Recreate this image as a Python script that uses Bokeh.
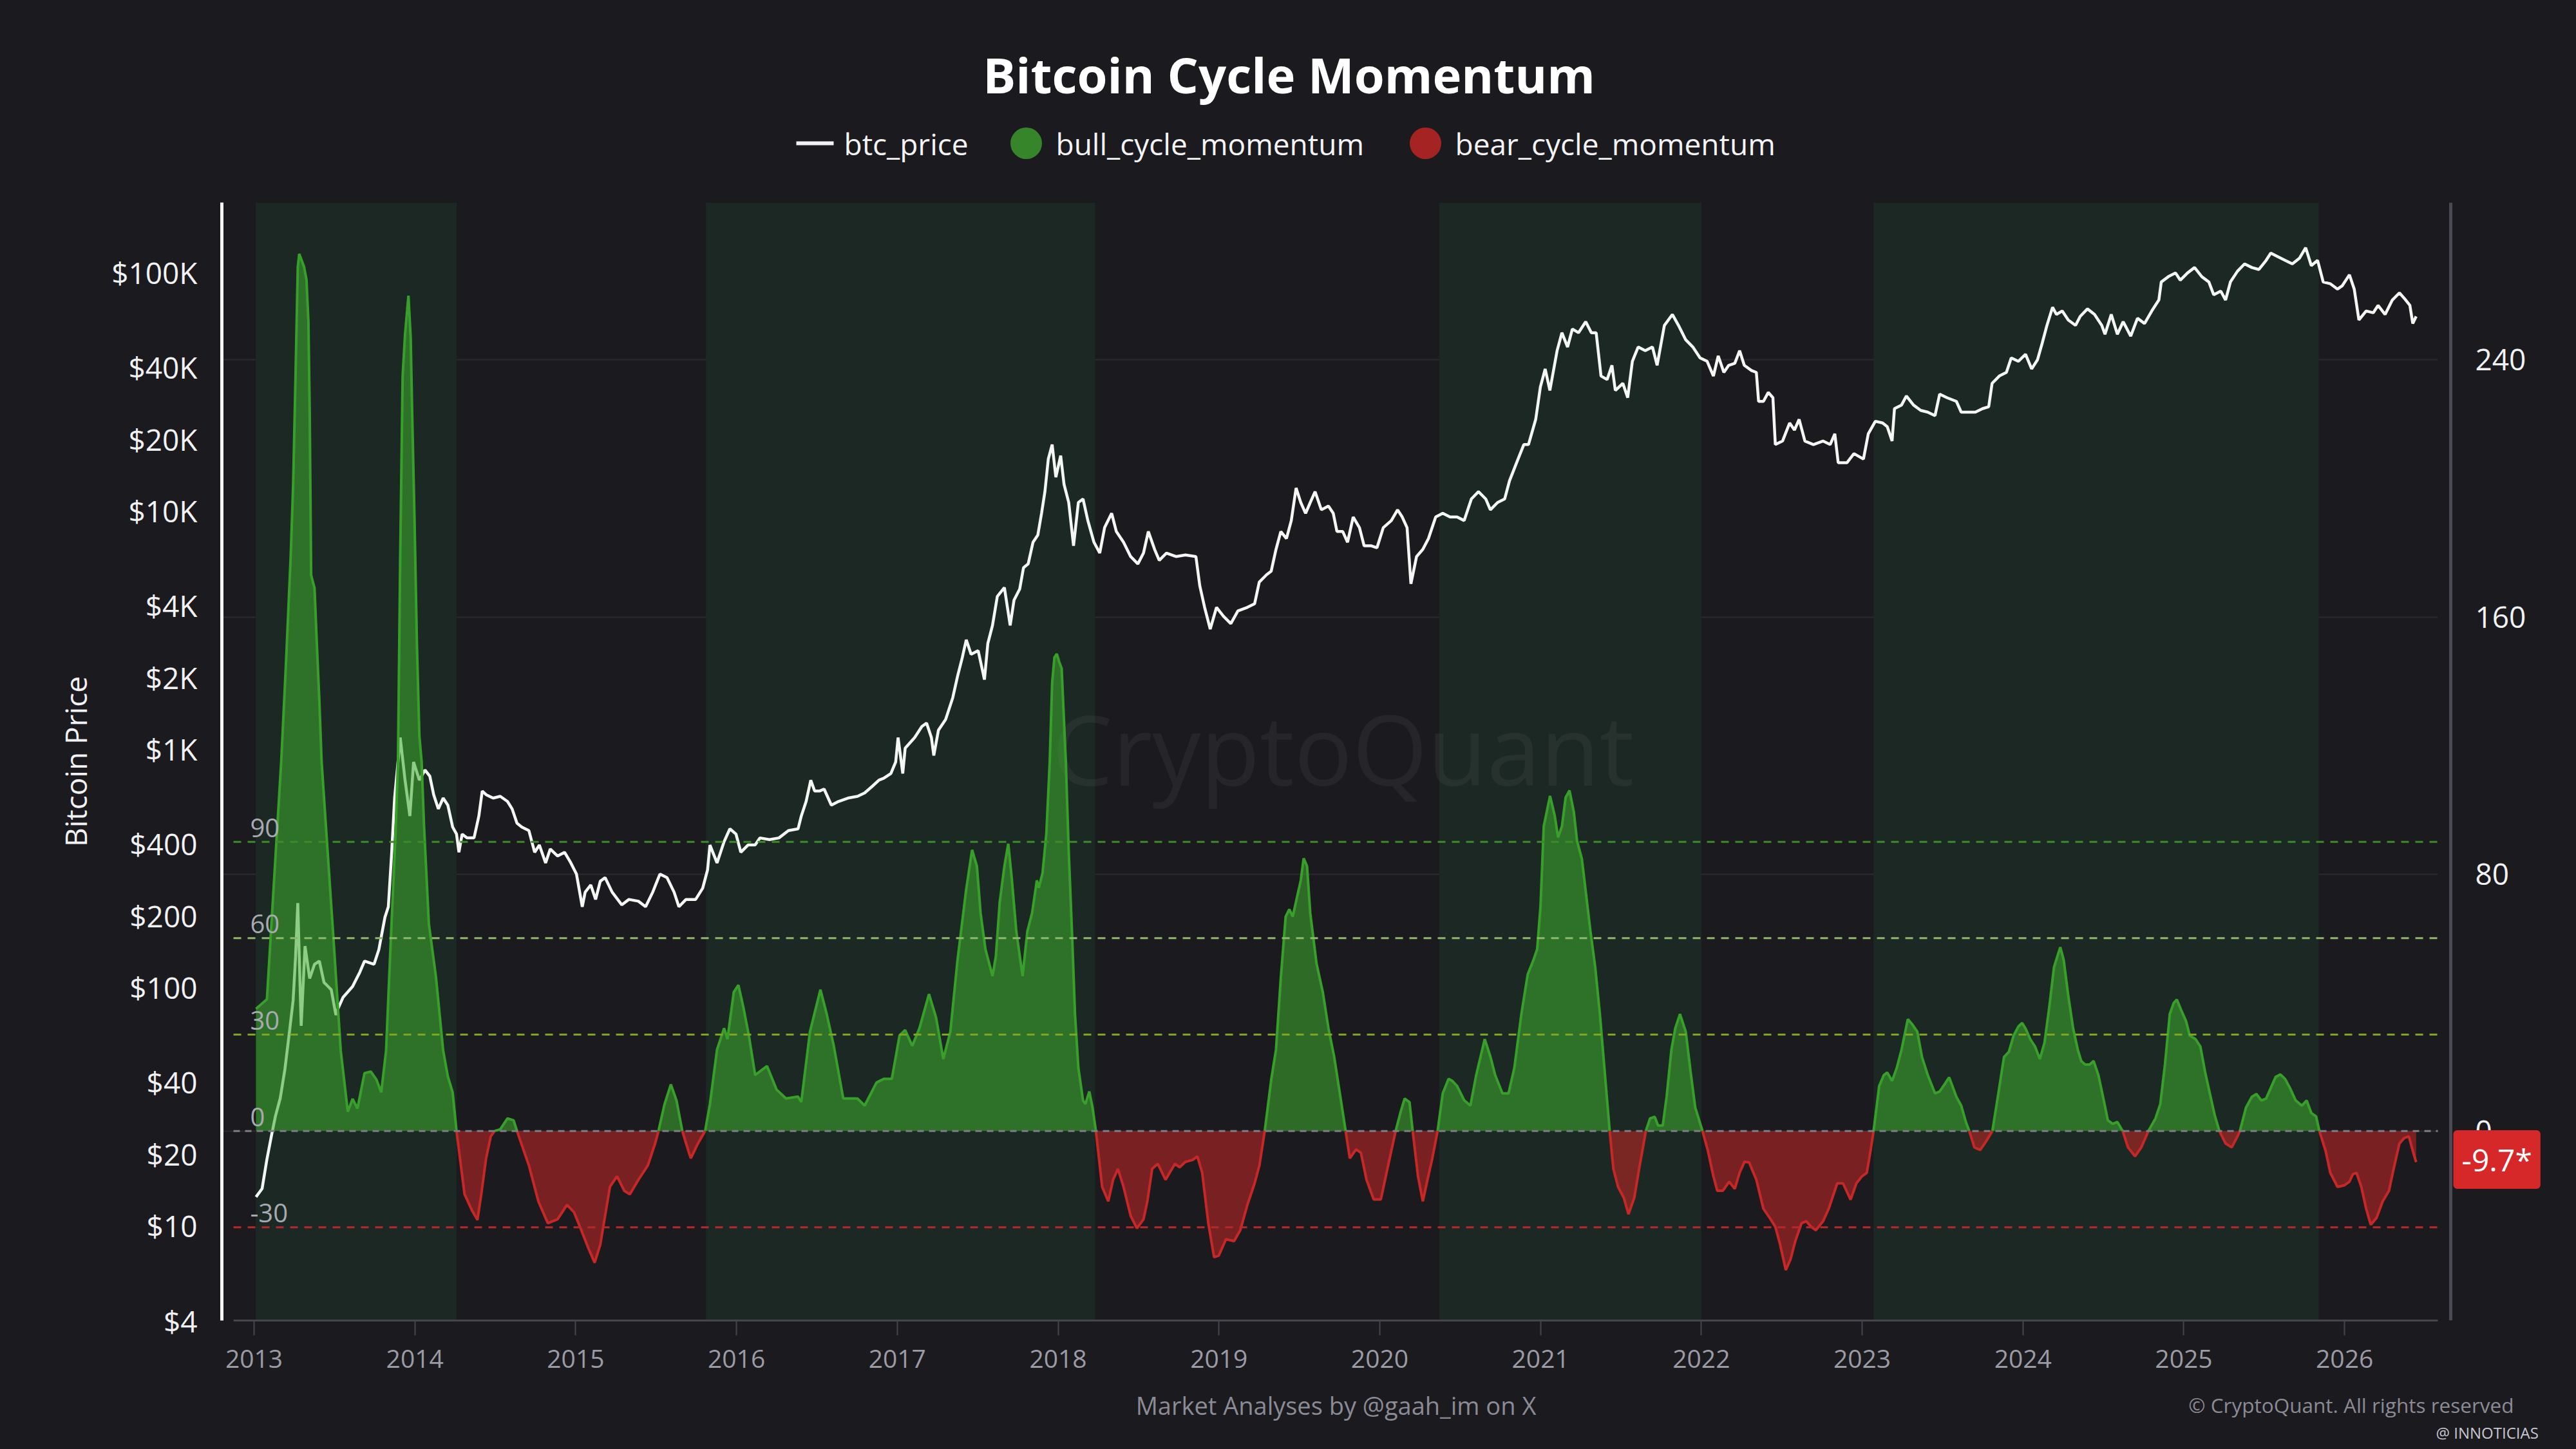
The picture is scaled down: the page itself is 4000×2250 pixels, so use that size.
import numpy as np
from bokeh.plotting import figure
from bokeh.models import Range1d, LinearAxis, LinearScale, FixedTicker, Label, BoxAnnotation, Grid
from bokeh.layouts import column
from bokeh.embed import file_html
from bokeh.resources import INLINE
from bokeh.core.properties import value

# ---------------- data ----------------
TITLE = "Bitcoin Cycle Momentum"
SERIES_NAMES = ["btc_price", "bull_cycle_momentum", "bear_cycle_momentum"]

PRICE_T = [2013.012, 2013.050, 2013.080, 2013.110, 2013.133, 2013.163, 2013.192, 2013.222, 2013.243, 2013.258,
           2013.272, 2013.293, 2013.317, 2013.346, 2013.376, 2013.406, 2013.435, 2013.480, 2013.509, 2013.524,
           2013.554, 2013.613, 2013.658, 2013.687, 2013.746, 2013.776, 2013.814, 2013.835, 2013.856, 2013.874,
           2013.895, 2013.909, 2013.939, 2013.969, 2013.992, 2014.028, 2014.063, 2014.093, 2014.117, 2014.146,
           2014.176, 2014.205, 2014.235, 2014.259, 2014.274, 2014.294, 2014.324, 2014.368, 2014.398, 2014.419,
           2014.443, 2014.487, 2014.531, 2014.576, 2014.605, 2014.635, 2014.665, 2014.709, 2014.745, 2014.774,
           2014.813, 2014.842, 2014.887, 2014.931, 2014.970, 2015.005, 2015.041, 2015.059, 2015.094, 2015.124,
           2015.153, 2015.183, 2015.227, 2015.287, 2015.331, 2015.390, 2015.435, 2015.479, 2015.524, 2015.568,
           2015.612, 2015.642, 2015.686, 2015.746, 2015.790, 2015.820, 2015.835, 2015.879, 2015.923, 2015.959,
           2015.997, 2016.027, 2016.072, 2016.116, 2016.146, 2016.205, 2016.264, 2016.323, 2016.383, 2016.403,
           2016.433, 2016.462, 2016.486, 2016.516, 2016.545, 2016.590, 2016.634, 2016.693, 2016.753, 2016.797,
           2016.842, 2016.886, 2016.916, 2016.960, 2016.990, 2017.005, 2017.034, 2017.049, 2017.108, 2017.153,
           2017.182, 2017.212, 2017.227, 2017.256, 2017.301, 2017.345, 2017.375, 2017.404, 2017.429, 2017.459,
           2017.503, 2017.542, 2017.563, 2017.592, 2017.622, 2017.666, 2017.702, 2017.726, 2017.761, 2017.785,
           2017.814, 2017.844, 2017.874, 2017.897, 2017.918, 2017.939, 2017.963, 2017.986, 2018.016, 2018.037,
           2018.066, 2018.096, 2018.126, 2018.155, 2018.185, 2018.223, 2018.259, 2018.289, 2018.333, 2018.362,
           2018.407, 2018.451, 2018.496, 2018.531, 2018.561, 2018.600, 2018.629, 2018.674, 2018.733, 2018.792,
           2018.857, 2018.881, 2018.911, 2018.946, 2018.985, 2019.029, 2019.074, 2019.118, 2019.177, 2019.222,
           2019.251, 2019.296, 2019.325, 2019.355, 2019.385, 2019.420, 2019.450, 2019.480, 2019.509, 2019.539,
           2019.568, 2019.598, 2019.637, 2019.681, 2019.711, 2019.734, 2019.770, 2019.800, 2019.835, 2019.874,
           2019.903, 2019.948, 2019.983, 2020.022, 2020.072, 2020.111, 2020.140, 2020.170, 2020.194, 2020.229,
           2020.268, 2020.303, 2020.348, 2020.392, 2020.437, 2020.481, 2020.525, 2020.570, 2020.614, 2020.659,
           2020.688, 2020.733, 2020.777, 2020.807, 2020.851, 2020.896, 2020.925, 2020.970, 2020.999, 2021.029,
           2021.058, 2021.103, 2021.133, 2021.168, 2021.198, 2021.236, 2021.281, 2021.316, 2021.346, 2021.376,
           2021.414, 2021.444, 2021.465, 2021.512, 2021.542, 2021.571, 2021.607, 2021.651, 2021.696, 2021.725,
           2021.770, 2021.820, 2021.858, 2021.903, 2021.947, 2021.992, 2022.036, 2022.075, 2022.105, 2022.140,
           2022.170, 2022.208, 2022.238, 2022.267, 2022.312, 2022.342, 2022.356, 2022.386, 2022.416, 2022.445,
           2022.460, 2022.505, 2022.549, 2022.579, 2022.608, 2022.644, 2022.697, 2022.756, 2022.801, 2022.830,
           2022.851, 2022.905, 2022.949, 2023.008, 2023.038, 2023.082, 2023.127, 2023.156, 2023.186, 2023.201,
           2023.245, 2023.275, 2023.319, 2023.364, 2023.408, 2023.453, 2023.482, 2023.527, 2023.586, 2023.616,
           2023.660, 2023.704, 2023.749, 2023.787, 2023.808, 2023.853, 2023.897, 2023.927, 2023.971, 2024.016,
           2024.054, 2024.090, 2024.119, 2024.149, 2024.184, 2024.208, 2024.244, 2024.282, 2024.327, 2024.356,
           2024.401, 2024.445, 2024.490, 2024.510, 2024.549, 2024.587, 2024.623, 2024.670, 2024.712, 2024.756,
           2024.801, 2024.845, 2024.860, 2024.904, 2024.949, 2024.978, 2025.023, 2025.067, 2025.112, 2025.156,
           2025.186, 2025.230, 2025.260, 2025.290, 2025.334, 2025.378, 2025.423, 2025.467, 2025.512, 2025.541,
           2025.586, 2025.630, 2025.675, 2025.719, 2025.758, 2025.793, 2025.832, 2025.867, 2025.912, 2025.956,
           2025.986, 2026.030, 2026.060, 2026.089, 2026.134, 2026.178, 2026.208, 2026.252, 2026.297, 2026.341,
           2026.371, 2026.406, 2026.424, 2026.445]
PRICE_V = [13.2, 14.3, 19, 24.2, 28.8, 34.3, 45.4, 66.7, 88.3, 134,
           226, 69, 149, 109, 125, 129, 105, 97.8, 76.6, 82,
           91, 101, 116, 129, 125, 144, 197, 218, 369, 623,
           883, 1119, 741, 524, 883, 741, 817, 770, 644, 561,
           623, 582, 471, 440, 369, 440, 424, 424, 524, 667,
           644, 623, 634, 603, 561, 489, 471, 455, 369, 396,
           333, 381, 356, 369, 333, 299, 218, 251, 269, 234,
           279, 289, 251, 222, 234, 230, 218, 251, 299, 289,
           251, 218, 234, 234, 261, 311, 396, 333, 409, 463,
           440, 369, 396, 396, 424, 417, 424, 455, 463, 524,
           603, 741, 667, 667, 680, 582, 603, 623, 634, 655,
           696, 741, 755, 790, 883, 1119, 790, 1009, 1119, 1245,
           1286, 1119, 940, 1202, 1334, 1644, 2027, 2420, 2877, 2500,
           2589, 1958, 2776, 3305, 4372, 4766, 3305, 4225, 4693, 5777,
           5989, 7380, 7918, 9761, 12040, 16490, 18970, 13840, 17060, 12910,
           10840, 7130, 10840, 11220, 9100, 7380, 6650, 8500, 9761, 8190,
           7380, 6430, 5989, 6650, 8190, 6890, 6200, 6650, 6430, 6530,
           6430, 4850, 3935, 3190, 3935, 3605, 3364, 3800, 3935, 4075,
           5024, 5390, 5580, 6890, 8190, 7650, 9100, 12470, 10840, 9761,
           10840, 12040, 10100, 10470, 9761, 8190, 8190, 7380, 9420, 8500,
           7130, 7130, 7000, 8500, 9100, 10100, 9420, 8500, 4940, 6430,
           6890, 7650, 9420, 9761, 9420, 9420, 9100, 11220, 12040, 11220,
           10100, 10840, 11220, 13370, 15910, 18970, 18970, 24200, 33100, 39400,
           32000, 47000, 55900, 48700, 57950, 55900, 62200, 55900, 55900, 36800,
           35550, 40800, 32000, 34280, 29850, 42400, 48700, 47000, 48700, 40800,
           60000, 66700, 60000, 52200, 48700, 43850, 42400, 36800, 44700, 38100,
           40800, 41600, 47000, 40800, 38800, 38100, 28800, 28800, 31400, 29850,
           18970, 19630, 23380, 21830, 24200, 19630, 18970, 19630, 18970, 21050,
           15910, 15910, 17380, 16490, 21050, 23770, 23380, 22560, 19630, 26850,
           27800, 30340, 27800, 26400, 25950, 25060, 30900, 29850, 28800, 25950,
           25950, 25950, 26850, 27350, 34280, 36800, 38100, 43850, 42400, 45400,
           39400, 43000, 50400, 60000, 71500, 66700, 69000, 63200, 60000, 65500,
           70400, 66700, 60000, 55100, 66700, 55100, 62200, 54100, 64300, 61100,
           69000, 76700, 91300, 96100, 99600, 92900, 99600, 105000, 96100, 91300,
           80700, 83600, 76700, 91300, 101300, 108700, 105000, 103000, 112500, 120700,
           116500, 112500, 108700, 114800, 127100, 106900, 112500, 91300, 89700, 85200,
           88100, 97900, 85200, 63200, 69000, 67800, 72800, 66700, 76700, 82200,
           78000, 72800, 61100, 65500]

MOM_T = [2013.012, 2013.080, 2013.169, 2013.198, 2013.228, 2013.243, 2013.258, 2013.272, 2013.281, 2013.311,
         2013.326, 2013.338, 2013.346, 2013.355, 2013.376, 2013.391, 2013.406, 2013.420, 2013.495, 2013.539,
         2013.583, 2013.613, 2013.643, 2013.687, 2013.726, 2013.761, 2013.791, 2013.821, 2013.850, 2013.880,
         2013.895, 2013.909, 2013.924, 2013.939, 2013.960, 2013.974, 2013.983, 2013.998, 2014.013, 2014.028,
         2014.042, 2014.057, 2014.087, 2014.131, 2014.176, 2014.205, 2014.235, 2014.259, 2014.309, 2014.354,
         2014.389, 2014.413, 2014.443, 2014.472, 2014.496, 2014.531, 2014.576, 2014.614, 2014.635, 2014.709,
         2014.768, 2014.827, 2014.887, 2014.946, 2014.990, 2015.035, 2015.079, 2015.118, 2015.153, 2015.213,
         2015.257, 2015.302, 2015.337, 2015.390, 2015.449, 2015.494, 2015.515, 2015.553, 2015.592, 2015.627,
         2015.663, 2015.701, 2015.716, 2015.760, 2015.805, 2015.835, 2015.879, 2015.923, 2015.944, 2015.983,
         2016.012, 2016.042, 2016.077, 2016.116, 2016.190, 2016.249, 2016.308, 2016.382, 2016.403, 2016.457,
         2016.522, 2016.560, 2016.605, 2016.664, 2016.753, 2016.797, 2016.871, 2016.916, 2016.966, 2017.014,
         2017.049, 2017.093, 2017.138, 2017.197, 2017.241, 2017.286, 2017.330, 2017.375, 2017.428, 2017.465,
         2017.495, 2017.518, 2017.548, 2017.592, 2017.613, 2017.637, 2017.666, 2017.690, 2017.711, 2017.740,
         2017.779, 2017.809, 2017.838, 2017.868, 2017.880, 2017.903, 2017.927, 2017.948, 2017.963, 2017.977,
         2017.992, 2018.007, 2018.022, 2018.048, 2018.066, 2018.087, 2018.105, 2018.126, 2018.155, 2018.170,
         2018.194, 2018.214, 2018.235, 2018.274, 2018.312, 2018.342, 2018.372, 2018.407, 2018.451, 2018.490,
         2018.531, 2018.555, 2018.585, 2018.620, 2018.668, 2018.727, 2018.756, 2018.792, 2018.837, 2018.866,
         2018.896, 2018.934, 2018.970, 2018.999, 2019.044, 2019.094, 2019.133, 2019.177, 2019.222, 2019.252,
         2019.285, 2019.326, 2019.355, 2019.385, 2019.415, 2019.438, 2019.459, 2019.489, 2019.509, 2019.527,
         2019.548, 2019.568, 2019.607, 2019.646, 2019.681, 2019.717, 2019.755, 2019.788, 2019.814, 2019.853,
         2019.883, 2019.918, 2019.962, 2020.007, 2020.043, 2020.099, 2020.131, 2020.155, 2020.185, 2020.205,
         2020.238, 2020.268, 2020.297, 2020.327, 2020.360, 2020.392, 2020.428, 2020.451, 2020.481, 2020.526,
         2020.564, 2020.600, 2020.653, 2020.689, 2020.718, 2020.763, 2020.801, 2020.837, 2020.881, 2020.920,
         2020.955, 2020.979, 2021.000, 2021.020, 2021.059, 2021.088, 2021.109, 2021.133, 2021.156, 2021.180,
         2021.207, 2021.227, 2021.257, 2021.281, 2021.310, 2021.340, 2021.369, 2021.399, 2021.430, 2021.453,
         2021.482, 2021.518, 2021.547, 2021.583, 2021.613, 2021.655, 2021.681, 2021.710, 2021.731, 2021.760,
         2021.784, 2021.814, 2021.838, 2021.867, 2021.903, 2021.933, 2021.962, 2022.007, 2022.040, 2022.075,
         2022.099, 2022.134, 2022.173, 2022.208, 2022.238, 2022.268, 2022.297, 2022.342, 2022.386, 2022.431,
         2022.460, 2022.490, 2022.525, 2022.555, 2022.584, 2022.623, 2022.653, 2022.682, 2022.712, 2022.757,
         2022.792, 2022.845, 2022.881, 2022.928, 2022.964, 2022.999, 2023.029, 2023.052, 2023.071, 2023.106,
         2023.135, 2023.156, 2023.186, 2023.215, 2023.245, 2023.284, 2023.313, 2023.343, 2023.372, 2023.408,
         2023.453, 2023.482, 2023.512, 2023.541, 2023.586, 2023.616, 2023.645, 2023.666, 2023.698, 2023.734,
         2023.770, 2023.810, 2023.847, 2023.882, 2023.912, 2023.942, 2023.971, 2023.995, 2024.016, 2024.045,
         2024.075, 2024.105, 2024.134, 2024.164, 2024.193, 2024.214, 2024.232, 2024.253, 2024.282, 2024.312,
         2024.341, 2024.362, 2024.386, 2024.415, 2024.439, 2024.469, 2024.498, 2024.528, 2024.558, 2024.587,
         2024.620, 2024.653, 2024.697, 2024.736, 2024.780, 2024.824, 2024.854, 2024.883, 2024.913, 2024.937,
         2024.957, 2024.984, 2025.014, 2025.037, 2025.073, 2025.103, 2025.132, 2025.162, 2025.192, 2025.221,
         2025.260, 2025.298, 2025.334, 2025.349, 2025.387, 2025.423, 2025.452, 2025.482, 2025.512, 2025.541,
         2025.571, 2025.601, 2025.630, 2025.660, 2025.696, 2025.734, 2025.764, 2025.793, 2025.823, 2025.843,
         2025.882, 2025.911, 2025.956, 2026.000, 2026.030, 2026.051, 2026.074, 2026.104, 2026.134, 2026.163,
         2026.199, 2026.237, 2026.276, 2026.305, 2026.341, 2026.371, 2026.400, 2026.424, 2026.445]
MOM_V = [38, 41, 115, 145, 179, 201, 235, 269, 273, 269,
         265, 252, 224, 173, 169, 151, 134, 115, 59, 25,
         6, 10, 7, 18, 18.5, 16, 12, 25, 59, 93,
         115, 179, 235, 248, 260, 247, 224, 190, 151, 123,
         115, 95, 64.5, 48, 25, 17, 12, 0, -19.7, -24.6,
         -27.7, -19.7, -8.5, -1.7, 0, 0.5, 3.9, 3.3, 0, -10.7,
         -21.9, -28.7, -27.5, -23, -25.3, -30.9, -36.5, -41, -35.4, -17.4,
         -14.1, -18.6, -19.7, -15.2, -10.7, -3.9, 0, 8.4, 14.5, 9.5,
         0, -6.2, -8.5, -3.9, 0, 8.4, 25.3, 32, 28.6, 43.2,
         45.4, 38.7, 29.7, 17.4, 20.2, 12.9, 10.1, 10.7, 9.0, 30.9,
         44, 36.6, 26.5, 10.1, 10.1, 7.9, 15.1, 16.2, 16.2, 29.7,
         31.4, 26.5, 32, 42.6, 35.3, 22.4, 30.9, 53.4, 75, 87.5,
         82.4, 67.8, 56.6, 48.2, 54.4, 71.2, 82.4, 89.4, 79.1, 62.2,
         48.2, 62.2, 67.8, 78, 75.7, 80.2, 92.6, 115, 139.5, 147.4,
         148.5, 146, 144, 115, 87, 61, 36.4, 19.6, 9.5, 8.4,
         12.3, 7.3, 0, -17.4, -21.9, -15.2, -11.8, -17.4, -26.4, -30.3,
         -27.5, -21.9, -11.8, -10.2, -15.2, -10.2, -11.3, -9.6, -9, -7.9,
         -13, -28.7, -39.3, -38.8, -33.7, -34.3, -30.9, -23, -16.3, -10.7,
         0, 16.2, 25.3, 47.7, 66.7, 69, 66.7, 73.5, 78, 84.9,
         82.4, 67.8, 52.1, 43.2, 32, 23, 10.7, 0, -8.5, -5.7,
         -6.8, -15.2, -21.3, -21.3, -12.9, 0, 6.1, 10.1, 9, 0,
         -14.1, -21.9, -15.2, -8.5, 0, 11.7, 16.2, 15.6, 14, 9.5,
         7.9, 17.4, 28.6, 23, 17.4, 11.7, 11.7, 19.6, 36.4, 48.7,
         53.1, 56.6, 70, 94.8, 104.3, 98.2, 91.4, 94.8, 103.8, 106,
         99.3, 90.3, 84.7, 74.6, 62.3, 51, 36.4, 18.5, 0, -11.8,
         -17.4, -20.8, -25.9, -20.8, -11.8, 0, 3.9, 4.4, 1.7, 1.7,
         10.6, 25.3, 32, 36.4, 30.9, 18.5, 7.3, 0, -6, -14.1,
         -18.6, -18.6, -15.8, -18, -13, -9.6, -9.8, -15.2, -24.2, -27.5,
         -29.8, -35.4, -43.3, -39.9, -34.3, -28.7, -28.1, -29.8, -30.9, -28.1,
         -24.2, -16.3, -16.3, -21.4, -16.3, -14.1, -13, -6.2, 0, 14,
         17.4, 18.2, 15.6, 19.6, 25.3, 34.8, 33.1, 30.9, 23, 17.4,
         11.7, 12.3, 14.5, 16.7, 10.6, 7.9, 2.8, 0, -5.1, -5.9,
         -3.3, 0, 11.7, 23, 24.6, 29.7, 32.5, 33.6, 31.9, 28.6,
         26.3, 22.4, 27.5, 38.7, 51, 54.4, 57.2, 53.3, 42, 31.9,
         25.3, 21.8, 20.7, 20.7, 21.8, 17.4, 10.6, 3.3, 2.2, 2.8,
         0, -5.1, -7.9, -5.1, 0, 3.9, 8.4, 20.7, 36.4, 39.8,
         40.9, 37.6, 34.2, 29.7, 28.6, 26.3, 18.5, 11.7, 5, 0,
         -3.9, -5.1, -1.7, 0, 7.3, 10.6, 11.5, 9.5, 10.1, 13.4,
         16.8, 17.6, 16.2, 13.4, 9.5, 7.9, 9.5, 5.6, 4.5, 0,
         -6.2, -13, -17.4, -16.9, -15.8, -13.5, -13, -17.4, -24.2, -29.2,
         -27, -21.9, -18.6, -11.8, -3.9, -2.2, -1.7, -6.2, -9.7]

BULL_PHASE_START = [2013.01, 2015.81, 2020.37, 2023.07]
BULL_PHASE_END = [2014.26, 2018.23, 2022.0, 2025.84]

LEVELS = [90, 60, 30, 0, -30]
YEAR_TICKS = list(range(2013, 2027))
PRICE_TICKS = [4, 10, 20, 40, 100, 200, 400, 1000, 2000, 4000, 10000, 20000, 40000, 100000]
PRICE_TICK_LABELS = ["$4", "$10", "$20", "$40", "$100", "$200", "$400", "$1K", "$2K", "$4K",
                     "$10K", "$20K", "$40K", "$100K"]
MOM_TICKS = [0, 80, 160, 240]
Y_AXIS_TITLE = "Bitcoin Price"
CREDIT = "Market Analyses by @gaah_im on X"
COPYRIGHT = "\u00a9 CryptoQuant. All rights reserved"
WATERMARK = "CryptoQuant"
CORNER_MARK = "@ INNOTICIAS"

# ---------------- style / layout ----------------
BG = "#1b1a1f"
BAND = "#1c2823"
FONT = "Open Sans"
GREEN_FILL = "#3dab2d"
GREEN_LINE = "#38a02a"
RED_FILL = "#c52726"
RED_LINE = "#c62828"
LEVEL_COLORS = ["#3b8c27", "#8fb868", "#7ea51d", "#7c7c84", "#b8282a"]
LEVEL_DASH = ["12 10", "12 10", "12 10", "10 8", "12 10"]

W = 4000
HEAD_H = 300
MAIN_H = 1850
FOOT_H = 100
FRAME_LEFT = 344          # page x of the frame's left edge (shared by all rows)
X_START, X_END = 2012.7998, 2027.441   # x range over the frame (344 .. 4000 px)
X_RIGHT_AXIS = 2026.660   # where the right axis sits
X_LINES_START, X_LINES_END = 2012.872, 2026.580

def header_or_footer(height):
    fig = figure(width=W, height=height, x_range=Range1d(FRAME_LEFT, W), y_range=Range1d(0, height),
                 output_backend="svg", toolbar_location=None, min_border=0,
                 x_axis_location=None, y_axis_location=None,
                 background_fill_color=BG, border_fill_color=BG, outline_line_color=None)
    fig.grid.visible = False
    return fig

# ---------------- header (title + legend) ----------------
h = header_or_footer(HEAD_H)
h.text(x=[2001], y=[HEAD_H - 115], text=[TITLE], text_font=value(FONT), text_font_style="bold",
       text_font_size="76px", text_color="#ffffff", text_align="center", text_baseline="middle")
LEG_Y = HEAD_H - 222
h.segment(x0=[1236], y0=[LEG_Y], x1=[1294], y1=[LEG_Y], line_color="#f2f2f4", line_width=6)
h.scatter(x=[1593], y=[LEG_Y], size=49, marker="circle", fill_color="#37852a", line_color=None)
h.scatter(x=[2213], y=[LEG_Y], size=49, marker="circle", fill_color="#a52323", line_color=None)
h.text(x=[1310, 1639, 2259], y=[LEG_Y] * 3, text=SERIES_NAMES, text_font=value(FONT),
       text_font_size="46px", text_color="#f4f4f6", text_align="left", text_baseline="middle")

# ---------------- main chart ----------------
p = figure(width=W, height=MAIN_H, x_range=Range1d(X_START, X_END), y_range=Range1d(4, 196700),
           y_axis_type="log", output_backend="svg", toolbar_location=None,
           min_border_left=FRAME_LEFT, min_border_right=0, min_border_top=14,
           min_border_bottom=100, background_fill_color=BG, border_fill_color=BG,
           outline_line_color=None)
p.extra_y_ranges = {"mom": Range1d(-59, 289)}
p.extra_y_scales = {"mom": LinearScale()}
p.xgrid.visible = False
p.ygrid.visible = False

p.add_layout(Grid(dimension=1, ticker=FixedTicker(ticks=MOM_TICKS), y_range_name="mom",
                  grid_line_color="#2a2a30", grid_line_width=2))
# blank strip right of the plotting area (where the right axis labels sit)
p.add_layout(BoxAnnotation(left=X_LINES_END, fill_color=BG, fill_alpha=1.0, line_color=None,
                           level="underlay"))

for s, e in zip(BULL_PHASE_START, BULL_PHASE_END):
    p.add_layout(BoxAnnotation(left=s, right=e, fill_color=BAND, fill_alpha=1.0,
                               line_color=None, level="underlay"))

p.add_layout(Label(x=1741, y=889, x_units="screen", y_units="screen", text=WATERMARK,
                   text_font=FONT, text_font_size="150px", text_color="#ffffff", text_alpha=0.05,
                   text_align="center", text_baseline="middle", level="underlay"))

# price
p.line(PRICE_T, PRICE_V, line_color="#f4f7f4", line_width=4.5)

# momentum
mt = np.array(MOM_T, dtype=float)
mv = np.array(MOM_V, dtype=float)
bull = np.where(mv > 0, mv, 0.0)
bear = np.where(mv < 0, mv, 0.0)
bull_line = np.where(mv >= 0, mv, np.nan)
bear_line = np.where(mv <= 0, mv, np.nan)
zero = np.zeros_like(mt)
p.varea(x=mt, y1=zero, y2=bull, y_range_name="mom", fill_color=GREEN_FILL, fill_alpha=0.56)
p.varea(x=mt, y1=bear, y2=zero, y_range_name="mom", fill_color=RED_FILL, fill_alpha=0.56)
p.line(mt, bull_line, y_range_name="mom", line_color=GREEN_LINE, line_width=4)
p.line(mt, bear_line, y_range_name="mom", line_color=RED_LINE, line_width=4)

# reference levels
for lvl, col, dash in zip(LEVELS, LEVEL_COLORS, LEVEL_DASH):
    p.segment(x0=[X_LINES_START], x1=[X_LINES_END], y0=[lvl], y1=[lvl], y_range_name="mom",
              line_color=col, line_width=3, line_dash=dash)
    p.add_layout(Label(x=44, x_units="screen", y=lvl, y_range_name="mom", y_offset=22,
                       text=str(lvl), text_font=FONT, text_font_size="40px", text_color="#a9a9b3",
                       text_align="left", text_baseline="middle"))

# axes
ax_b = p.xaxis[0]
ax_b.ticker = FixedTicker(ticks=YEAR_TICKS)
ax_b.major_label_overrides = {y: str(y) for y in YEAR_TICKS}
ax_b.bounds = (X_LINES_START, X_LINES_END)
ax_b.axis_line_color = "#45454d"
ax_b.axis_line_width = 3
ax_b.major_tick_line_color = "#45454d"
ax_b.major_tick_line_width = 2
ax_b.major_tick_out = 23
ax_b.major_tick_in = 0
ax_b.minor_tick_line_color = None
ax_b.major_label_text_color = "#9b9ba6"
ax_b.major_label_text_font = FONT
ax_b.major_label_text_font_size = "39px"
ax_b.major_label_standoff = 22

ax_l = p.yaxis[0]
ax_l.ticker = FixedTicker(ticks=PRICE_TICKS)
ax_l.major_label_overrides = dict(zip(PRICE_TICKS, PRICE_TICK_LABELS))
ax_l.axis_line_color = "#f5f5f5"
ax_l.axis_line_width = 5
ax_l.major_tick_out = 0
ax_l.major_tick_in = 0
ax_l.major_tick_line_color = None
ax_l.minor_tick_line_color = None
ax_l.major_label_text_color = "#f2f2f4"
ax_l.major_label_text_font = FONT
ax_l.major_label_text_font_size = "46px"
ax_l.major_label_standoff = 38
ax_l.axis_label = Y_AXIS_TITLE
ax_l.axis_label_text_font = FONT
ax_l.axis_label_text_font_style = "normal"
ax_l.axis_label_text_font_size = "46px"
ax_l.axis_label_text_color = "#f2f2f4"
ax_l.axis_label_standoff = 22

ax_r = LinearAxis(y_range_name="mom", ticker=FixedTicker(ticks=MOM_TICKS), fixed_location=X_RIGHT_AXIS)
ax_r.axis_line_color = "#4a4a52"
ax_r.axis_line_width = 5
ax_r.major_tick_out = 0
ax_r.major_tick_in = 0
ax_r.major_tick_line_color = None
ax_r.minor_tick_line_color = None
ax_r.major_label_text_color = "#f2f2f4"
ax_r.major_label_text_font = FONT
ax_r.major_label_text_font_size = "46px"
ax_r.major_label_standoff = 38
p.add_layout(ax_r, "right")

# last value badge
p.add_layout(Label(x=X_RIGHT_AXIS, x_offset=4, y=MOM_V[-1], y_range_name="mom", y_offset=4,
                   text=f"{MOM_V[-1]:.1f}*", text_font=FONT, text_font_size="48px",
                   text_color="#ffffff", text_align="left", text_baseline="middle",
                   background_fill_color="#d62828", background_fill_alpha=1.0,
                   padding=13, border_radius=6))

# ---------------- footer ----------------
f = header_or_footer(FOOT_H)
f.text(x=[2074], y=[FOOT_H - 31], text=[CREDIT], text_font=value(FONT), text_font_size="38px",
       text_color="#8b8b96", text_align="center", text_baseline="middle")
f.text(x=[3903], y=[FOOT_H - 31], text=[COPYRIGHT], text_font=value(FONT), text_font_size="31.5px",
       text_color="#8b8b96", text_align="right", text_baseline="middle")
f.text(x=[3782], y=[FOOT_H - 74], text=[CORNER_MARK], text_font=value(FONT), text_font_size="24px",
       text_color="#c8c8cf", text_align="left", text_baseline="middle")

layout = column(h, p, f, spacing=0)
html = file_html(layout, INLINE, title=TITLE)
html = html.replace("</head>", "<style>html,body{background:#1b1a1f;}</style></head>", 1)
open("out.html", "w").write(html)
